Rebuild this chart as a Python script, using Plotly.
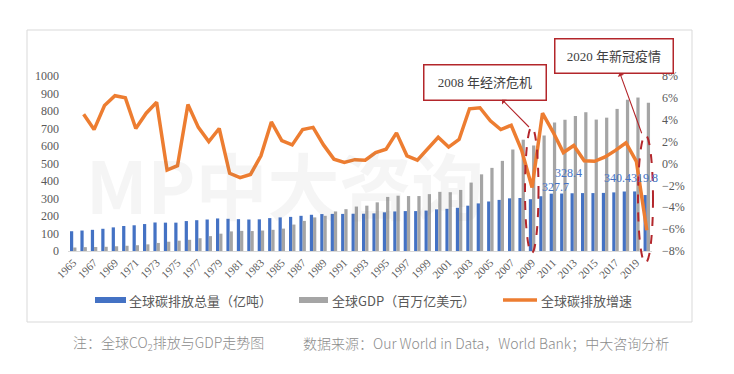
import plotly.graph_objects as go

# ---------------- data ----------------
years = [str(y) for y in range(1965, 2021)]

co2_total = [113, 117, 121, 127, 135, 143, 147, 154, 163, 162,
             162, 171, 176, 180, 186, 184, 182, 180, 181, 188,
             192, 195, 201, 207, 211, 212, 212, 213, 213, 215,
             221, 226, 228, 228, 231, 238, 241, 247, 259, 272,
             283, 292, 301, 303, 296, 313, 327.7, 328.4, 330, 331,
             331, 332, 335, 340, 340.4, 319.8]

gdp = [20, 22, 23, 24, 27, 30, 33, 38, 46, 53,
       59, 64, 73, 85, 99, 112, 115, 114, 117, 121,
       128, 151, 172, 192, 201, 226, 239, 254, 259, 278,
       309, 316, 314, 314, 325, 338, 336, 349, 391, 438,
       475, 515, 580, 636, 603, 660, 734, 750, 772, 793,
       751, 762, 812, 864, 877, 847]

co2_growth = [None, 4.5, 3.1, 5.3, 6.2, 6.0, 3.2, 4.6, 5.6, -0.6,
              -0.2, 5.4, 3.3, 2.0, 3.2, -0.9, -1.3, -1.0, 0.7, 3.8,
              2.1, 1.7, 3.1, 3.3, 1.7, 0.4, 0.1, 0.35, 0.3, 1.0,
              1.3, 2.8, 0.7, 0.3, 1.3, 2.4, 1.5, 2.2, 5.0, 5.1,
              3.9, 3.1, 3.5, 1.2, -2.2, 4.6, 2.9, 1.0, 1.65, 0.25,
              0.2, 0.6, 1.2, 1.9, 0.2, -6.1]

tick_years = years[::2]

# labelled bars: (year, x pixel shift, y pixel shift of label centre above bar top)
labelled = [("2011", 3, 7), ("2012", 5, 21), ("2019", -19, 13), ("2020", -2, 17)]

names = ["全球碳排放总量（亿吨）", "全球GDP（百万亿美元）", "全球碳排放增速"]
colors = ["#4472C4", "#A5A5A5", "#ED7D31"]

# ---------------- layout helpers ----------------
W, H = 734, 374
ML, MR, MT, MB = 68, 82, 76, 123
PW, PH = W - ML - MR, H - MT - MB


def px_x(px):
    return (px - ML) / PW


def px_y(py):
    return (H - MB - py) / PH


serif = "Liberation Serif, Times New Roman, Noto Sans CJK SC"
sans = "Noto Sans CJK SC, Microsoft YaHei, sans-serif"
dark_red = "#B3262B"

fig = go.Figure()
fig.add_trace(go.Bar(x=years, y=co2_total, name=names[0],
                     marker=dict(color=colors[0], line_width=0)))
fig.add_trace(go.Bar(x=years, y=gdp, name=names[1],
                     marker=dict(color=colors[1], line_width=0)))
fig.add_trace(go.Scatter(x=years, y=co2_growth, name=names[2], yaxis="y2",
                         mode="lines", line=dict(color=colors[2], width=3.5)))

annotations = []
shapes = []

# watermark
annotations.append(dict(xref="paper", yref="paper", x=px_x(284), y=px_y(182),
                        text="<b>MP中大咨询</b>", showarrow=False,
                        font=dict(family=sans, size=72, color="rgba(120,120,120,0.07)")))

# data labels (x as category index)
for yr, xs, ys in labelled:
    i = years.index(yr)
    annotations.append(dict(x=i, y=co2_total[i], xref="x", yref="y",
                            text=f"{co2_total[i]:.1f}", showarrow=False,
                            xanchor="center", yanchor="middle", xshift=xs, yshift=ys,
                            borderpad=0,
                            font=dict(family=serif, size=12, color="#4472C4")))

# callout boxes with arrows (arrow head at the box side)
for tx, ty, cx, cy, w, h, txt in [(529, 127, 484.5, 82, 119, 32, "2008 年经济危机"),
                                  (641.7, 133.3, 613.5, 55.5, 115, 31, "2020 年新冠疫情")]:
    annotations.append(dict(xref="paper", yref="paper", x=px_x(tx), y=px_y(ty),
                            axref="pixel", ayref="pixel", ax=cx - tx, ay=cy - ty,
                            text=txt, showarrow=True, arrowside="start", arrowhead=2,
                            arrowsize=1.2, arrowwidth=1.1, arrowcolor=dark_red, standoff=0,
                            startstandoff=0,
                            width=w, height=h, bgcolor="white", bordercolor=dark_red,
                            borderwidth=1.5, borderpad=1,
                            font=dict(family=serif, size=13, color="#404040")))

# dashed ellipses
for x0, x1, y0, y1 in [(525, 538.5, 127, 253), (638, 653, 135, 263)]:
    shapes.append(dict(type="circle", xref="paper", yref="paper",
                       x0=px_x(x0), x1=px_x(x1), y0=px_y(y1), y1=px_y(y0),
                       line=dict(color=dark_red, width=2, dash="dash")))

# outer frame
shapes.append(dict(type="rect", xref="paper", yref="paper", layer="below",
                   x0=px_x(27), x1=px_x(692), y0=px_y(322), y1=px_y(30),
                   line=dict(color="#D9D9D9", width=1)))

# custom legend
leg_y = 300
shapes.append(dict(type="rect", xref="paper", yref="paper", x0=px_x(95), x1=px_x(126),
                   y0=px_y(leg_y + 3), y1=px_y(leg_y - 3), line_width=0, fillcolor=colors[0]))
shapes.append(dict(type="rect", xref="paper", yref="paper", x0=px_x(299), x1=px_x(328),
                   y0=px_y(leg_y + 3), y1=px_y(leg_y - 3), line_width=0, fillcolor=colors[1]))
shapes.append(dict(type="line", xref="paper", yref="paper", x0=px_x(503), x1=px_x(537),
                   y0=px_y(leg_y), y1=px_y(leg_y), line=dict(color=colors[2], width=3.5)))
for lx, txt in [(127, names[0]), (330, names[1]), (539, names[2])]:
    annotations.append(dict(xref="paper", yref="paper", x=px_x(lx), y=px_y(leg_y),
                            text=txt, showarrow=False, xanchor="left", yanchor="middle",
                            font=dict(family=sans, size=13, color="#595959")))

# caption
annotations.append(dict(xref="paper", yref="paper", x=px_x(71), y=px_y(343),
                        text="注：全球CO<sub>2</sub>排放与GDP走势图", showarrow=False,
                        xanchor="left", yanchor="middle",
                        font=dict(family=sans, size=14, color="#8C8C8C", weight=300)))
annotations.append(dict(xref="paper", yref="paper", x=px_x(301), y=px_y(343),
                        text="数据来源：Our World in Data，World Bank；中大咨询分析",
                        showarrow=False, xanchor="left", yanchor="middle",
                        font=dict(family=sans, size=14, color="#8C8C8C", weight=300)))

fig.update_layout(
    width=W, height=H,
    margin=dict(l=ML, r=MR, t=MT, b=MB),
    paper_bgcolor="white", plot_bgcolor="rgba(0,0,0,0)",
    barmode="group", bargap=0.38, bargroupgap=0,
    showlegend=False,
    xaxis=dict(type="category", range=[-0.5, len(years) - 0.5],
               tickmode="array", tickvals=tick_years, ticktext=tick_years,
               tickangle=-45, showgrid=False, showline=True, linecolor="#D9D9D9",
               ticks="", tickfont=dict(family=serif, size=11, color="#595959")),
    yaxis=dict(range=[0, 1000], dtick=100, showgrid=False, zeroline=False,
               showline=False, ticks="", ticklabelstandoff=8,
               tickfont=dict(family=serif, size=12, color="#595959")),
    yaxis2=dict(range=[-8, 8], dtick=2, ticksuffix="%", overlaying="y", side="right",
                showgrid=False, zeroline=False, showline=False, ticks="",
                ticklabelstandoff=9,
                tickfont=dict(family=serif, size=12, color="#595959")),
    annotations=annotations,
    shapes=shapes,
)

fig.write_html("out.html",
               config={"displayModeBar": False},
               post_script="document.body.style.margin='0';document.body.style.padding='0';")
